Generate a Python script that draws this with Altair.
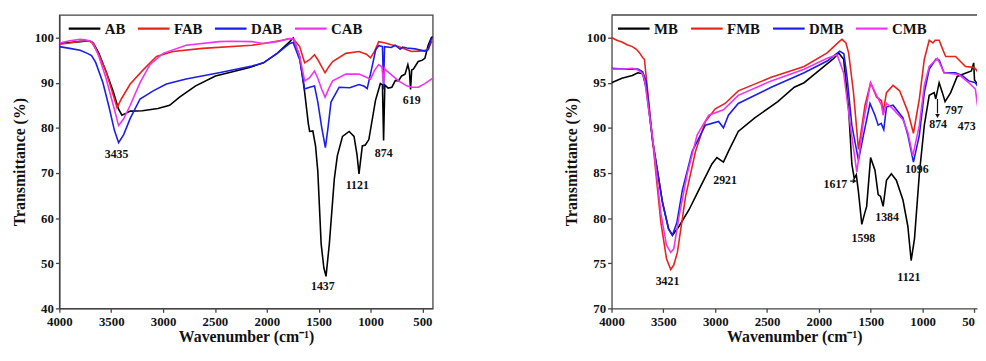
import altair as alt
import pandas as pd

FONT = "Liberation Serif"

# ---------------- Left panel data ----------------
AB_WN = [4000, 3900, 3800, 3714, 3683, 3667, 3619, 3550, 3480, 3430, 3397, 3360, 3317, 3200, 3050, 2937,
         2841, 2686, 2495, 2175, 2032, 1900, 1778, 1746, 1683, 1635, 1600, 1587, 1556, 1530, 1508, 1476,
         1450, 1429, 1397, 1349, 1320, 1270, 1206, 1159, 1130, 1111, 1079, 1050, 1016, 952, 905, 885, 874,
         862, 830, 794, 760, 730, 700, 667, 640, 625, 614, 603, 587, 540, 500, 476, 444, 413, 400]
AB_T = [98.7, 98.9, 99.1, 99.3, 99.0, 98.6, 96.5, 92.5, 88.0, 84.2, 82.8, 83.2, 83.7, 83.8, 84.3, 85.0,
        86.8, 89.3, 91.5, 93.3, 94.4, 96.5, 99.1, 99.9, 95.8, 87.9, 81.0, 79.2, 79.3, 76.0, 70.3, 54.3,
        49.0, 47.1, 54.3, 68.7, 73.8, 78.1, 79.2, 78.1, 74.0, 69.8, 76.0, 76.2, 77.4, 86.1, 89.8, 89.5, 77.2,
        89.5, 88.8, 89.0, 90.5, 90.4, 91.5, 91.9, 94.0, 92.5, 88.5, 92.8, 93.0, 94.7, 95.0, 95.4, 98.3, 100.0, 100.2]

FAB_WN = [4000, 3900, 3800, 3714, 3683, 3619, 3550, 3490, 3444, 3400, 3317, 3190, 3063, 2905, 2619, 2143,
          2032, 1850, 1778, 1740, 1683, 1635, 1587, 1540, 1508, 1470, 1438, 1400, 1365, 1238, 1111, 1040,
          1000, 960, 921, 857, 800, 730, 650, 603, 540, 476, 440, 413, 400]
FAB_T = [98.5, 98.8, 99.2, 99.3, 98.8, 96.2, 92.5, 88.0, 84.5, 86.5, 89.7, 92.9, 95.8, 96.9, 97.6, 98.3,
         98.7, 99.4, 99.8, 99.6, 98.0, 94.4, 95.1, 96.2, 95.1, 93.5, 92.2, 93.6, 94.7, 96.5, 96.9, 96.3,
         95.5, 97.0, 99.1, 98.8, 98.4, 98.0, 97.3, 96.9, 97.0, 97.1, 97.6, 99.0, 99.2]

DAB_WN = [4000, 3900, 3800, 3730, 3690, 3650, 3580, 3520, 3470, 3429, 3380, 3317, 3222, 3095, 2968, 2778,
          2460, 2143, 2032, 1900, 1778, 1746, 1683, 1635, 1587, 1540, 1508, 1470, 1435, 1410, 1381, 1302,
          1200, 1111, 1060, 1032, 990, 950, 921, 885, 874, 865, 800, 762, 714, 690, 650, 571, 476, 444, 413, 400]
DAB_T = [98.0, 97.6, 97.2, 96.5, 96.0, 94.5, 90.0, 84.5, 79.5, 76.7, 78.5, 82.1, 86.4, 88.2, 89.7, 90.8,
         92.2, 93.7, 94.4, 96.5, 98.7, 98.9, 95.1, 88.6, 89.0, 89.3, 85.7, 80.0, 75.6, 80.0, 85.7, 89.0,
         88.9, 89.6, 89.2, 88.7, 93.0, 97.3, 98.2, 98.0, 88.5, 98.0, 97.8, 98.3, 97.4, 97.9, 97.7, 97.5, 97.0, 97.3, 99.7, 99.8]

CAB_WN = [4000, 3900, 3800, 3750, 3700, 3667, 3619, 3550, 3480, 3429, 3380, 3317, 3222, 3127, 3000, 2778,
          2460, 2349, 2143, 2032, 1900, 1778, 1740, 1683, 1635, 1587, 1540, 1508, 1470, 1438, 1400, 1365,
          1238, 1111, 1040, 1000, 960, 921, 890, 874, 865, 857, 800, 730, 650, 603, 540, 476, 413, 400]
CAB_T = [98.8, 99.3, 99.6, 99.5, 99.2, 98.5, 95.8, 91.0, 85.0, 80.5, 82.0, 85.0, 90.0, 94.0, 96.5, 98.3,
         99.1, 99.2, 99.1, 98.7, 99.1, 99.8, 99.7, 95.8, 90.4, 91.1, 92.6, 91.0, 88.5, 86.8, 88.8, 90.4,
         91.9, 91.9, 91.2, 90.8, 92.8, 94.0, 93.5, 89.8, 93.2, 92.9, 91.8, 90.4, 89.3, 89.0, 89.0, 89.8, 90.8, 91.0]

# ---------------- Right panel data ----------------
MB_WN = [4000, 3900, 3800, 3746, 3700, 3667, 3603, 3508, 3450, 3413, 3349, 3254, 3159, 3032, 2984, 2921,
         2873, 2778, 2619, 2397, 2238, 2143, 2048, 1857, 1810, 1762, 1714, 1683, 1660, 1640, 1620, 1587,
         1560, 1540, 1502, 1460, 1429, 1406, 1381, 1349, 1302, 1254, 1190, 1143, 1111, 1079, 1032, 984,
         937, 889, 874, 841, 810, 784, 730, 667, 620, 530, 508, 500, 470, 440, 400]
MB_T = [95.0, 95.5, 95.8, 96.1, 96.0, 94.5, 88.5, 81.7, 78.8, 78.1, 79.1, 80.9, 83.1, 86.0, 86.7, 86.2,
        87.4, 89.6, 91.1, 92.9, 94.5, 95.0, 95.9, 97.7, 98.3, 97.6, 92.1, 86.0, 84.4, 84.8, 83.0, 79.3,
        80.5, 81.3, 86.7, 85.3, 82.6, 82.4, 81.3, 84.2, 84.9, 84.2, 82.0, 79.1, 75.3, 77.7, 84.9, 90.3,
        93.6, 93.9, 93.2, 95.0, 93.9, 92.9, 93.9, 95.7, 95.9, 96.3, 97.2, 95.3, 94.8, 94.5, 94.0]

FMB_WN = [4000, 3950, 3900, 3850, 3800, 3760, 3730, 3700, 3683, 3660, 3603, 3524, 3470, 3429, 3400, 3365,
          3286, 3190, 3095, 3000, 2905, 2778, 2460, 2143, 1921, 1800, 1778, 1740, 1714, 1667, 1619, 1556,
          1502, 1444, 1397, 1381, 1349, 1286, 1222, 1143, 1089, 1032, 984, 937, 900, 880, 841, 800, 778,
          683, 587, 508, 480, 440, 400]
FMB_T = [100.0, 99.7, 99.5, 99.2, 99.0, 98.7, 98.3, 97.8, 97.6, 95.0, 88.5, 79.5, 75.5, 74.3, 74.8, 76.2,
         82.4, 87.4, 90.7, 92.1, 92.7, 94.1, 95.6, 96.8, 98.3, 99.6, 99.8, 99.4, 98.3, 93.9, 87.6, 92.5,
         95.0, 93.4, 93.0, 91.8, 93.9, 94.7, 94.1, 91.8, 89.4, 93.2, 97.6, 99.7, 99.4, 99.7, 99.7, 98.5, 97.9,
         97.9, 96.8, 96.7, 96.4, 95.5, 95.0]

DMB_WN = [4000, 3850, 3746, 3700, 3667, 3603, 3508, 3450, 3413, 3370, 3317, 3222, 3095, 2968, 2921, 2873,
          2778, 2460, 2143, 1921, 1800, 1760, 1730, 1683, 1619, 1571, 1508, 1460, 1429, 1400, 1375, 1349,
          1286, 1190, 1143, 1089, 1032, 984, 937, 873, 840, 794, 683, 620, 556, 492, 450, 400]
DMB_T = [96.6, 96.5, 96.5, 96.2, 95.2, 88.5, 81.7, 78.8, 78.1, 79.5, 83.1, 87.4, 90.3, 90.7, 90.0, 91.4,
         92.7, 94.5, 96.1, 97.4, 98.5, 98.2, 95.7, 90.3, 86.4, 89.2, 92.7, 91.4, 90.3, 90.5, 89.8, 92.3,
         92.5, 91.1, 89.2, 86.2, 89.2, 93.9, 96.5, 97.6, 97.5, 96.1, 96.1, 95.8, 95.2, 95.0, 94.3, 93.5]

CMB_WN = [4000, 3900, 3800, 3746, 3700, 3680, 3603, 3524, 3470, 3429, 3400, 3349, 3270, 3175, 3063, 2921,
          2778, 2460, 2143, 1921, 1825, 1762, 1698, 1635, 1571, 1502, 1444, 1397, 1381, 1349, 1286, 1190,
          1143, 1095, 1032, 984, 937, 857, 794, 651, 556, 492, 467, 440, 400]
CMB_T = [96.5, 96.5, 96.6, 96.4, 96.0, 95.2, 88.8, 80.5, 77.0, 76.2, 76.6, 80.2, 84.9, 89.2, 91.4, 92.0,
         93.6, 95.2, 96.5, 97.7, 98.1, 96.1, 90.3, 85.1, 90.7, 95.0, 93.6, 92.5, 91.4, 92.7, 92.1, 90.9,
         89.5, 86.9, 90.3, 94.7, 96.8, 97.7, 96.1, 95.9, 95.0, 94.3, 92.1, 91.5, 91.0]

# Peak labels
LEFT_LABELS = ["3435", "1437", "1121", "874", "619"]
LEFT_LAB_WN = [3448, 1460, 1127, 873, 603]
LEFT_LAB_T = [74.2, 44.9, 67.3, 74.5, 86.2]

RIGHT_LABELS = ["3421", "2921", "1617", "1598", "1384", "1121", "1096", "874", "797", "473"]
RIGHT_LAB_WN = [3460, 2905, 1841, 1571, 1343, 1133, 1057, 851, 698, 575]
RIGHT_LAB_T = [73.0, 84.2, 83.8, 77.8, 80.1, 73.5, 85.4, 90.4, 92.0, 90.2]

# Arrows (right panel)
ARROW_WN1 = [1700, 857]
ARROW_WN2 = [1662, 857]
ARROW_T1 = [84.1, 93.2]
ARROW_T2 = [84.1, 91.6]
ARROW_HEAD = ["triangle-right", "triangle-down"]
ARROW_HEAD_WN = [1655, 857]
ARROW_HEAD_T = [84.1, 91.3]

LEFT_NAMES = ["AB", "FAB", "DAB", "CAB"]
RIGHT_NAMES = ["MB", "FMB", "DMB", "CMB"]
COLORS = ["#000000", "#e8221c", "#1c1ced", "#f033f0"]
XTICKS = [4000, 3500, 3000, 2500, 2000, 1500, 1000, 500]
PLOT_H = 297


def build(names, wns, ts):
    rows = []
    for n, w, t in zip(names, wns, ts):
        for i, (a, b) in enumerate(zip(w, t)):
            rows.append({"series": n, "wn": a, "T": b, "order": i})
    return pd.DataFrame(rows)


def panel(df, names, xdomain, ydomain, yvalues, lab_df, width, legend_x, xaxis_extra, extra=None):
    xs = alt.Scale(domain=xdomain, reverse=True, nice=False, zero=False)
    ys = alt.Scale(domain=ydomain, nice=False, zero=False)
    lines = alt.Chart(df).mark_line(strokeWidth=1.6, clip=True).encode(
        x=alt.X("wn:Q", scale=xs,
                axis=alt.Axis(values=XTICKS, format="d", title="Wavenumber (cm⁻¹)", **xaxis_extra)),
        y=alt.Y("T:Q", scale=ys,
                axis=alt.Axis(values=yvalues, format="d", title="Transmittance (%)")),
        color=alt.Color("series:N", scale=alt.Scale(domain=names, range=COLORS),
                        legend=alt.Legend(orient="none", legendX=legend_x, legendY=4,
                                          direction="horizontal",
                                          title=None, symbolType="M-1,0L3,0", symbolSize=256,
                                          symbolStrokeWidth=2.2, labelFont=FONT, labelFontSize=15,
                                          labelFontWeight="bold", labelColor="#111", labelOffset=19,
                                          columnPadding=8, padding=0)),
        order="order:Q",
    )
    texts = alt.Chart(lab_df).mark_text(font=FONT, fontWeight="bold", fontSize=12, color="#111",
                                        clip=True).encode(
        x=alt.X("wn:Q", scale=xs), y=alt.Y("T:Q", scale=ys), text="label:N")
    layers = [lines, texts]
    if extra is not None:
        layers += extra
    return alt.layer(*layers).properties(width=width, height=PLOT_H)


left_df = build(LEFT_NAMES, [AB_WN, FAB_WN, DAB_WN, CAB_WN], [AB_T, FAB_T, DAB_T, CAB_T])
right_df = build(RIGHT_NAMES, [MB_WN, FMB_WN, DMB_WN, CMB_WN], [MB_T, FMB_T, DMB_T, CMB_T])
left_lab = pd.DataFrame({"label": LEFT_LABELS, "wn": LEFT_LAB_WN, "T": LEFT_LAB_T})
right_lab = pd.DataFrame({"label": RIGHT_LABELS, "wn": RIGHT_LAB_WN, "T": RIGHT_LAB_T})
arrow_df = pd.DataFrame({"wn": ARROW_WN1, "wn2": ARROW_WN2, "T": ARROW_T1, "T2": ARROW_T2})
head_df = pd.DataFrame({"wn": ARROW_HEAD_WN, "T": ARROW_HEAD_T, "shape": ARROW_HEAD})

RIGHT_XDOMAIN = [476, 4000]
RIGHT_W = 370
rxs = alt.Scale(domain=RIGHT_XDOMAIN, reverse=True, nice=False, zero=False)
rys = alt.Scale(domain=[70, 102.5], nice=False, zero=False)
arrows = alt.Chart(arrow_df).mark_rule(color="#111", strokeWidth=1.2).encode(
    x=alt.X("wn:Q", scale=rxs), x2="wn2:Q", y=alt.Y("T:Q", scale=rys), y2="T2:Q")
heads = alt.Chart(head_df).mark_point(filled=True, color="#111", size=22, opacity=1).encode(
    x=alt.X("wn:Q", scale=rxs), y=alt.Y("T:Q", scale=rys),
    shape=alt.Shape("shape:N", scale=None, legend=None))
# top border of the right panel (its right edge lies outside the picture)
top_border = alt.Chart(pd.DataFrame({"k": [0]})).mark_rule(color="#444", strokeWidth=1.3).encode(
    x=alt.value(0), x2=alt.value(RIGHT_W), y=alt.value(0))

left = panel(left_df, LEFT_NAMES, [400, 4000], [40, 105], [40, 50, 60, 70, 80, 90, 100], left_lab, 378,
             8, {})
right_axis_extra = dict(
    labelExpr="datum.value == 500 ? '50' : datum.label",
    labelAlign={"condition": {"test": "datum.value == 500", "value": "right"}, "value": "center"},
)
right = panel(right_df, RIGHT_NAMES, RIGHT_XDOMAIN, [70, 102.5], [70, 75, 80, 85, 90, 95, 100], right_lab,
              RIGHT_W, 5, right_axis_extra, extra=[arrows, heads, top_border]).properties(
    view=alt.ViewBackground(stroke=None))

chart = alt.hconcat(left, right, spacing=131).resolve_scale(color="independent").properties(
    padding={"left": 2, "top": 4, "right": 0, "bottom": -2}
).configure_axis(
    labelFont=FONT, labelFontSize=13, labelFontWeight="bold", labelColor="#111",
    titleFont=FONT, titleFontSize=16, titleFontWeight="bold", titleColor="#111",
    domainColor="#444", domainWidth=1.3, tickColor="#444", tickWidth=1.3, tickSize=4,
    labelPadding=2, grid=False
).configure_axisX(titlePadding=1, labelPadding=3, labelFlush=False).configure_axisY(
    titlePadding=7
).configure_view(
    stroke="#444", strokeWidth=1.3
)

chart.save("out.html", embed_options={"renderer": "svg", "actions": False})
